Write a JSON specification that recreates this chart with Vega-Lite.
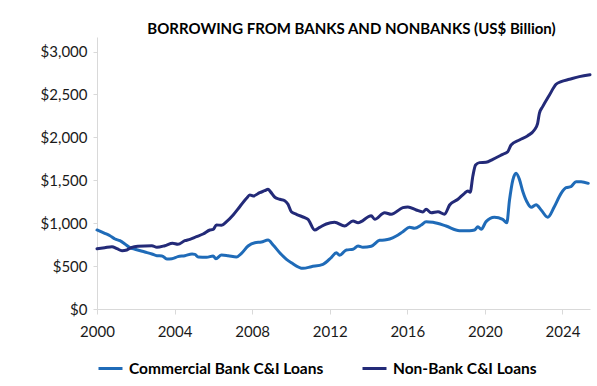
{
  "$schema": "https://vega.github.io/schema/vega-lite/v6.json",
  "width": 493,
  "height": 272,
  "autosize": {"type": "none"},
  "padding": {"left": 97, "top": 37, "right": 7, "bottom": 77},
  "background": "white",
  "title": {
    "text": "BORROWING FROM BANKS AND NONBANKS (US$ Billion)",
    "font": "Lato",
    "fontSize": 15,
    "fontWeight": "bold",
    "color": "#000000",
    "anchor": "middle",
    "dx": 8,
    "offset": -12,
    "baseline": "alphabetic"
  },
  "config": {
    "view": {"stroke": null},
    "axis": {
      "labelFont": "Lato",
      "labelFontSize": 15,
      "labelColor": "#1a1a1a",
      "domainColor": "#d9d9d9",
      "tickColor": "#d9d9d9",
      "grid": false,
      "title": null
    },
    "legend": {
      "labelFont": "Lato",
      "labelFontSize": 15.5,
      "labelFontWeight": "bold",
      "labelColor": "#000000",
      "labelLimit": 0
    }
  },
  "datasets": {
    "loans": [
      {"series": "Commercial Bank C&I Loans", "year": 2000.0, "value": 921},
      {"series": "Commercial Bank C&I Loans", "year": 2000.4, "value": 882},
      {"series": "Commercial Bank C&I Loans", "year": 2000.67, "value": 854},
      {"series": "Commercial Bank C&I Loans", "year": 2000.93, "value": 816},
      {"series": "Commercial Bank C&I Loans", "year": 2001.18, "value": 796},
      {"series": "Commercial Bank C&I Loans", "year": 2001.44, "value": 758},
      {"series": "Commercial Bank C&I Loans", "year": 2001.7, "value": 715},
      {"series": "Commercial Bank C&I Loans", "year": 2001.96, "value": 696},
      {"series": "Commercial Bank C&I Loans", "year": 2002.47, "value": 664},
      {"series": "Commercial Bank C&I Loans", "year": 2002.83, "value": 641},
      {"series": "Commercial Bank C&I Loans", "year": 2003.09, "value": 621},
      {"series": "Commercial Bank C&I Loans", "year": 2003.35, "value": 618},
      {"series": "Commercial Bank C&I Loans", "year": 2003.6, "value": 583},
      {"series": "Commercial Bank C&I Loans", "year": 2003.86, "value": 586},
      {"series": "Commercial Bank C&I Loans", "year": 2004.17, "value": 610},
      {"series": "Commercial Bank C&I Loans", "year": 2004.53, "value": 621},
      {"series": "Commercial Bank C&I Loans", "year": 2004.9, "value": 641},
      {"series": "Commercial Bank C&I Loans", "year": 2005.05, "value": 637},
      {"series": "Commercial Bank C&I Loans", "year": 2005.22, "value": 606},
      {"series": "Commercial Bank C&I Loans", "year": 2005.65, "value": 603},
      {"series": "Commercial Bank C&I Loans", "year": 2005.99, "value": 618},
      {"series": "Commercial Bank C&I Loans", "year": 2006.13, "value": 587},
      {"series": "Commercial Bank C&I Loans", "year": 2006.42, "value": 629},
      {"series": "Commercial Bank C&I Loans", "year": 2006.76, "value": 621},
      {"series": "Commercial Bank C&I Loans", "year": 2007.19, "value": 606},
      {"series": "Commercial Bank C&I Loans", "year": 2007.45, "value": 649},
      {"series": "Commercial Bank C&I Loans", "year": 2007.79, "value": 734},
      {"series": "Commercial Bank C&I Loans", "year": 2008.14, "value": 773},
      {"series": "Commercial Bank C&I Loans", "year": 2008.48, "value": 781},
      {"series": "Commercial Bank C&I Loans", "year": 2008.82, "value": 804},
      {"series": "Commercial Bank C&I Loans", "year": 2009.08, "value": 746},
      {"series": "Commercial Bank C&I Loans", "year": 2009.42, "value": 656},
      {"series": "Commercial Bank C&I Loans", "year": 2009.77, "value": 579},
      {"series": "Commercial Bank C&I Loans", "year": 2010.02, "value": 540},
      {"series": "Commercial Bank C&I Loans", "year": 2010.62, "value": 474},
      {"series": "Commercial Bank C&I Loans", "year": 2011.05, "value": 493},
      {"series": "Commercial Bank C&I Loans", "year": 2011.65, "value": 521},
      {"series": "Commercial Bank C&I Loans", "year": 2012.09, "value": 603},
      {"series": "Commercial Bank C&I Loans", "year": 2012.34, "value": 656},
      {"series": "Commercial Bank C&I Loans", "year": 2012.51, "value": 626},
      {"series": "Commercial Bank C&I Loans", "year": 2012.86, "value": 688},
      {"series": "Commercial Bank C&I Loans", "year": 2013.2, "value": 696},
      {"series": "Commercial Bank C&I Loans", "year": 2013.46, "value": 734},
      {"series": "Commercial Bank C&I Loans", "year": 2013.71, "value": 719},
      {"series": "Commercial Bank C&I Loans", "year": 2014.14, "value": 731},
      {"series": "Commercial Bank C&I Loans", "year": 2014.57, "value": 800},
      {"series": "Commercial Bank C&I Loans", "year": 2014.83, "value": 804},
      {"series": "Commercial Bank C&I Loans", "year": 2015.09, "value": 816},
      {"series": "Commercial Bank C&I Loans", "year": 2015.43, "value": 851},
      {"series": "Commercial Bank C&I Loans", "year": 2015.77, "value": 901},
      {"series": "Commercial Bank C&I Loans", "year": 2016.12, "value": 952},
      {"series": "Commercial Bank C&I Loans", "year": 2016.37, "value": 941},
      {"series": "Commercial Bank C&I Loans", "year": 2016.72, "value": 979},
      {"series": "Commercial Bank C&I Loans", "year": 2016.97, "value": 1018},
      {"series": "Commercial Bank C&I Loans", "year": 2017.32, "value": 1010},
      {"series": "Commercial Bank C&I Loans", "year": 2018.0, "value": 967},
      {"series": "Commercial Bank C&I Loans", "year": 2018.69, "value": 913},
      {"series": "Commercial Bank C&I Loans", "year": 2019.21, "value": 913},
      {"series": "Commercial Bank C&I Loans", "year": 2019.47, "value": 921},
      {"series": "Commercial Bank C&I Loans", "year": 2019.64, "value": 959},
      {"series": "Commercial Bank C&I Loans", "year": 2019.81, "value": 929},
      {"series": "Commercial Bank C&I Loans", "year": 2020.06, "value": 1018},
      {"series": "Commercial Bank C&I Loans", "year": 2020.49, "value": 1069},
      {"series": "Commercial Bank C&I Loans", "year": 2020.92, "value": 1045},
      {"series": "Commercial Bank C&I Loans", "year": 2021.13, "value": 1006},
      {"series": "Commercial Bank C&I Loans", "year": 2021.27, "value": 1270},
      {"series": "Commercial Bank C&I Loans", "year": 2021.44, "value": 1503},
      {"series": "Commercial Bank C&I Loans", "year": 2021.61, "value": 1581},
      {"series": "Commercial Bank C&I Loans", "year": 2021.78, "value": 1511},
      {"series": "Commercial Bank C&I Loans", "year": 2021.96, "value": 1367},
      {"series": "Commercial Bank C&I Loans", "year": 2022.21, "value": 1232},
      {"series": "Commercial Bank C&I Loans", "year": 2022.39, "value": 1185},
      {"series": "Commercial Bank C&I Loans", "year": 2022.64, "value": 1215},
      {"series": "Commercial Bank C&I Loans", "year": 2022.9, "value": 1154},
      {"series": "Commercial Bank C&I Loans", "year": 2023.24, "value": 1069},
      {"series": "Commercial Bank C&I Loans", "year": 2023.58, "value": 1192},
      {"series": "Commercial Bank C&I Loans", "year": 2023.93, "value": 1348},
      {"series": "Commercial Bank C&I Loans", "year": 2024.19, "value": 1414},
      {"series": "Commercial Bank C&I Loans", "year": 2024.44, "value": 1426},
      {"series": "Commercial Bank C&I Loans", "year": 2024.7, "value": 1484},
      {"series": "Commercial Bank C&I Loans", "year": 2024.96, "value": 1484},
      {"series": "Commercial Bank C&I Loans", "year": 2025.33, "value": 1465},
      {"series": "Non-Bank C&I Loans", "year": 2000.0, "value": 703},
      {"series": "Non-Bank C&I Loans", "year": 2000.4, "value": 715},
      {"series": "Non-Bank C&I Loans", "year": 2000.77, "value": 726},
      {"series": "Non-Bank C&I Loans", "year": 2001.03, "value": 703},
      {"series": "Non-Bank C&I Loans", "year": 2001.29, "value": 680},
      {"series": "Non-Bank C&I Loans", "year": 2001.54, "value": 688},
      {"series": "Non-Bank C&I Loans", "year": 2001.8, "value": 719},
      {"series": "Non-Bank C&I Loans", "year": 2002.1, "value": 731},
      {"series": "Non-Bank C&I Loans", "year": 2002.83, "value": 738},
      {"series": "Non-Bank C&I Loans", "year": 2003.09, "value": 719},
      {"series": "Non-Bank C&I Loans", "year": 2003.5, "value": 738},
      {"series": "Non-Bank C&I Loans", "year": 2003.9, "value": 766},
      {"series": "Non-Bank C&I Loans", "year": 2004.17, "value": 754},
      {"series": "Non-Bank C&I Loans", "year": 2004.53, "value": 796},
      {"series": "Non-Bank C&I Loans", "year": 2004.79, "value": 812},
      {"series": "Non-Bank C&I Loans", "year": 2005.13, "value": 843},
      {"series": "Non-Bank C&I Loans", "year": 2005.47, "value": 874},
      {"series": "Non-Bank C&I Loans", "year": 2005.82, "value": 921},
      {"series": "Non-Bank C&I Loans", "year": 2005.99, "value": 929},
      {"series": "Non-Bank C&I Loans", "year": 2006.16, "value": 979},
      {"series": "Non-Bank C&I Loans", "year": 2006.42, "value": 976},
      {"series": "Non-Bank C&I Loans", "year": 2006.68, "value": 1018},
      {"series": "Non-Bank C&I Loans", "year": 2007.02, "value": 1096},
      {"series": "Non-Bank C&I Loans", "year": 2007.36, "value": 1192},
      {"series": "Non-Bank C&I Loans", "year": 2007.71, "value": 1290},
      {"series": "Non-Bank C&I Loans", "year": 2007.88, "value": 1329},
      {"series": "Non-Bank C&I Loans", "year": 2008.05, "value": 1317},
      {"series": "Non-Bank C&I Loans", "year": 2008.39, "value": 1356},
      {"series": "Non-Bank C&I Loans", "year": 2008.65, "value": 1379},
      {"series": "Non-Bank C&I Loans", "year": 2008.82, "value": 1395},
      {"series": "Non-Bank C&I Loans", "year": 2008.94, "value": 1368},
      {"series": "Non-Bank C&I Loans", "year": 2009.17, "value": 1302},
      {"series": "Non-Bank C&I Loans", "year": 2009.42, "value": 1279},
      {"series": "Non-Bank C&I Loans", "year": 2009.68, "value": 1262},
      {"series": "Non-Bank C&I Loans", "year": 2009.85, "value": 1220},
      {"series": "Non-Bank C&I Loans", "year": 2010.02, "value": 1134},
      {"series": "Non-Bank C&I Loans", "year": 2010.28, "value": 1104},
      {"series": "Non-Bank C&I Loans", "year": 2010.71, "value": 1064},
      {"series": "Non-Bank C&I Loans", "year": 2010.88, "value": 1045},
      {"series": "Non-Bank C&I Loans", "year": 2011.22, "value": 921},
      {"series": "Non-Bank C&I Loans", "year": 2011.48, "value": 952},
      {"series": "Non-Bank C&I Loans", "year": 2011.82, "value": 991},
      {"series": "Non-Bank C&I Loans", "year": 2012.25, "value": 1010},
      {"series": "Non-Bank C&I Loans", "year": 2012.77, "value": 967},
      {"series": "Non-Bank C&I Loans", "year": 2013.2, "value": 1026},
      {"series": "Non-Bank C&I Loans", "year": 2013.46, "value": 1006},
      {"series": "Non-Bank C&I Loans", "year": 2014.14, "value": 1087},
      {"series": "Non-Bank C&I Loans", "year": 2014.32, "value": 1045},
      {"series": "Non-Bank C&I Loans", "year": 2014.83, "value": 1122},
      {"series": "Non-Bank C&I Loans", "year": 2015.17, "value": 1104},
      {"series": "Non-Bank C&I Loans", "year": 2015.77, "value": 1181},
      {"series": "Non-Bank C&I Loans", "year": 2016.03, "value": 1189},
      {"series": "Non-Bank C&I Loans", "year": 2016.46, "value": 1154},
      {"series": "Non-Bank C&I Loans", "year": 2016.8, "value": 1131},
      {"series": "Non-Bank C&I Loans", "year": 2016.97, "value": 1162},
      {"series": "Non-Bank C&I Loans", "year": 2017.23, "value": 1122},
      {"series": "Non-Bank C&I Loans", "year": 2017.58, "value": 1134},
      {"series": "Non-Bank C&I Loans", "year": 2017.92, "value": 1104},
      {"series": "Non-Bank C&I Loans", "year": 2018.18, "value": 1212},
      {"series": "Non-Bank C&I Loans", "year": 2018.61, "value": 1279},
      {"series": "Non-Bank C&I Loans", "year": 2018.95, "value": 1348},
      {"series": "Non-Bank C&I Loans", "year": 2019.12, "value": 1375},
      {"series": "Non-Bank C&I Loans", "year": 2019.24, "value": 1360},
      {"series": "Non-Bank C&I Loans", "year": 2019.38, "value": 1550},
      {"series": "Non-Bank C&I Loans", "year": 2019.52, "value": 1678},
      {"series": "Non-Bank C&I Loans", "year": 2019.72, "value": 1706},
      {"series": "Non-Bank C&I Loans", "year": 2020.06, "value": 1710},
      {"series": "Non-Bank C&I Loans", "year": 2020.41, "value": 1745},
      {"series": "Non-Bank C&I Loans", "year": 2020.92, "value": 1803},
      {"series": "Non-Bank C&I Loans", "year": 2021.18, "value": 1833},
      {"series": "Non-Bank C&I Loans", "year": 2021.35, "value": 1911},
      {"series": "Non-Bank C&I Loans", "year": 2021.78, "value": 1970},
      {"series": "Non-Bank C&I Loans", "year": 2022.21, "value": 2020},
      {"series": "Non-Bank C&I Loans", "year": 2022.55, "value": 2086},
      {"series": "Non-Bank C&I Loans", "year": 2022.72, "value": 2164},
      {"series": "Non-Bank C&I Loans", "year": 2022.81, "value": 2281},
      {"series": "Non-Bank C&I Loans", "year": 2022.98, "value": 2358},
      {"series": "Non-Bank C&I Loans", "year": 2023.33, "value": 2494},
      {"series": "Non-Bank C&I Loans", "year": 2023.67, "value": 2619},
      {"series": "Non-Bank C&I Loans", "year": 2023.93, "value": 2650},
      {"series": "Non-Bank C&I Loans", "year": 2024.36, "value": 2677},
      {"series": "Non-Bank C&I Loans", "year": 2024.87, "value": 2708},
      {"series": "Non-Bank C&I Loans", "year": 2025.42, "value": 2731}
    ]
  },
  "data": {"name": "loans"},
  "mark": {"type": "line", "strokeWidth": 3, "interpolate": "monotone", "strokeCap": "round", "strokeJoin": "round"},
  "encoding": {
    "x": {
      "field": "year",
      "type": "quantitative",
      "scale": {"domain": [2000, 2025.42], "nice": false, "zero": false},
      "axis": {
        "values": [2000, 2004, 2008, 2012, 2016, 2020, 2024],
        "format": "d",
        "tickSize": 5,
        "labelPadding": 10,
        "labelFlush": false,
        "domainWidth": 1
      }
    },
    "y": {
      "field": "value",
      "type": "quantitative",
      "scale": {"domain": [0, 3170], "nice": false},
      "axis": {
        "values": [0, 500, 1000, 1500, 2000, 2500, 3000],
        "format": "$,.0f",
        "tickSize": 4,
        "labelPadding": 6,
        "domainWidth": 1
      }
    },
    "color": {
      "field": "series",
      "type": "nominal",
      "scale": {
        "domain": ["Commercial Bank C&I Loans", "Non-Bank C&I Loans"],
        "range": ["#1f6bb8", "#232a78"]
      },
      "legend": {
        "title": null,
        "orient": "bottom",
        "direction": "horizontal",
        "symbolType": "stroke",
        "symbolSize": 576,
        "symbolStrokeWidth": 3,
        "labelOffset": 5,
        "columnPadding": 32,
        "offset": 16
      }
    }
  }
}
